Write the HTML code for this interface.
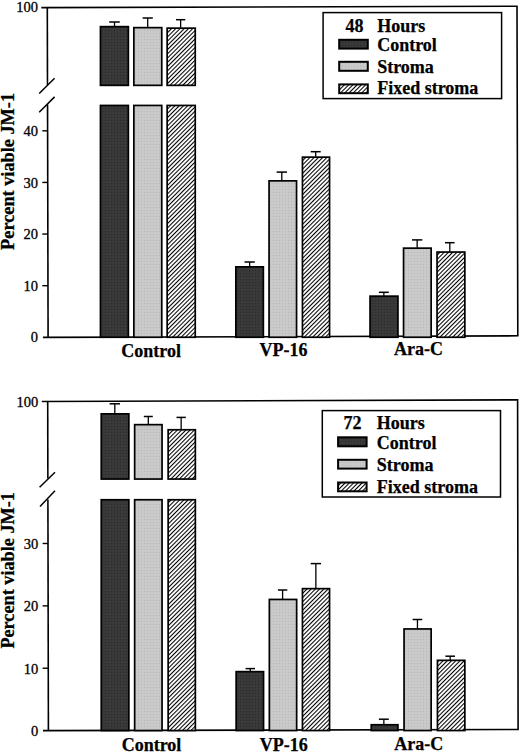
<!DOCTYPE html>
<html><head><meta charset="utf-8"><title>Percent viable JM-1</title>
<style>
html,body{margin:0;padding:0;background:#fff;}
body{width:520px;height:753px;overflow:hidden;}
svg{display:block;}
.tk{font-family:"Liberation Serif",serif;font-size:14.5px;text-anchor:end;fill:#000;stroke:#000;stroke-width:0.3px;}
.bl{font-family:"Liberation Serif",serif;font-weight:bold;font-size:18px;fill:#000;stroke:#000;stroke-width:0.25px;}
</style></head>
<body>
<svg width="520" height="753" viewBox="0 0 520 753">
<defs>
<pattern id="dk" patternUnits="userSpaceOnUse" width="3" height="3">
<rect width="3" height="3" fill="#373737"/><rect width="1" height="1" fill="#2c2c2c"/><rect x="1.5" y="1.5" width="1" height="1" fill="#424242"/>
</pattern>
<pattern id="lt" patternUnits="userSpaceOnUse" width="3" height="3">
<rect width="3" height="3" fill="#c8c8c8"/><rect width="1" height="1" fill="#bababa"/><rect x="1.5" y="1.5" width="1" height="1" fill="#d3d3d3"/>
</pattern>
<pattern id="ht" patternUnits="userSpaceOnUse" width="3" height="10" patternTransform="rotate(45)">
<rect width="3" height="10" fill="#fff"/><rect width="1.05" height="10" fill="#000"/>
</pattern>
</defs>
<rect width="520" height="753" fill="#fff"/>
<path d="M41.3 7.6 L517 6.3 L517.8 335.8 L42.9 337.4" fill="none" stroke="#000" stroke-width="1.6" stroke-linejoin="miter"/>
<line x1="47.3" y1="7.5" x2="47.49" y2="85" stroke="#000" stroke-width="1.6"/>
<line x1="47.54" y1="104.5" x2="48.1" y2="337.3" stroke="#000" stroke-width="1.6"/>
<line x1="39.2" y1="93.5" x2="54.6" y2="78.3" stroke="#000" stroke-width="1.5"/>
<line x1="39.2" y1="112.3" x2="54.6" y2="96.9" stroke="#000" stroke-width="1.5"/>
<text x="37.9" y="12.1" class="tk">100</text>
<line x1="42.3" y1="130.8" x2="47.6" y2="130.8" stroke="#000" stroke-width="1.4"/>
<text x="37.9" y="135.9" class="tk">40</text>
<line x1="42.3" y1="182.43" x2="47.72" y2="182.43" stroke="#000" stroke-width="1.4"/>
<text x="37.9" y="187.53" class="tk">30</text>
<line x1="42.3" y1="234.05" x2="47.85" y2="234.05" stroke="#000" stroke-width="1.4"/>
<text x="37.9" y="239.15" class="tk">20</text>
<line x1="42.3" y1="285.68" x2="47.97" y2="285.68" stroke="#000" stroke-width="1.4"/>
<text x="37.9" y="290.78" class="tk">10</text>
<text x="37.9" y="342.4" class="tk">0</text>
<rect x="100.45" y="26.65" width="27.9" height="58.7" fill="url(#dk)" stroke="#000" stroke-width="1.7"/>
<rect x="100.45" y="105.45" width="27.9" height="231.8" fill="url(#dk)" stroke="#000" stroke-width="1.7"/>
<line x1="114.5" y1="26.3" x2="114.5" y2="22" stroke="#000" stroke-width="1.3"/><line x1="109.2" y1="22" x2="119.8" y2="22" stroke="#000" stroke-width="1.5"/>
<rect x="133.85" y="27.65" width="27.9" height="57.7" fill="url(#lt)" stroke="#000" stroke-width="1.7"/>
<rect x="133.85" y="105.45" width="27.9" height="231.8" fill="url(#lt)" stroke="#000" stroke-width="1.7"/>
<line x1="147.7" y1="27.3" x2="147.7" y2="18" stroke="#000" stroke-width="1.3"/><line x1="142.6" y1="18" x2="152.8" y2="18" stroke="#000" stroke-width="1.5"/>
<rect x="167.15" y="28.15" width="28.1" height="57.2" fill="url(#ht)" stroke="#000" stroke-width="1.7"/>
<rect x="167.15" y="105.45" width="28.1" height="231.8" fill="url(#ht)" stroke="#000" stroke-width="1.7"/>
<line x1="180.65" y1="27.8" x2="180.65" y2="19.7" stroke="#000" stroke-width="1.3"/><line x1="176" y1="19.7" x2="185.3" y2="19.7" stroke="#000" stroke-width="1.5"/>
<rect x="235.85" y="266.85" width="27.5" height="70.4" fill="url(#dk)" stroke="#000" stroke-width="1.7"/>
<line x1="249.65" y1="266.5" x2="249.65" y2="262" stroke="#000" stroke-width="1.3"/><line x1="244.5" y1="262" x2="254.8" y2="262" stroke="#000" stroke-width="1.5"/>
<rect x="269.05" y="180.85" width="27.5" height="156.4" fill="url(#lt)" stroke="#000" stroke-width="1.7"/>
<line x1="281.8" y1="180.5" x2="281.8" y2="172.1" stroke="#000" stroke-width="1.3"/><line x1="276.6" y1="172.1" x2="287" y2="172.1" stroke="#000" stroke-width="1.5"/>
<rect x="302.45" y="157.15" width="27.1" height="180.1" fill="url(#ht)" stroke="#000" stroke-width="1.7"/>
<line x1="315.7" y1="156.8" x2="315.7" y2="151.7" stroke="#000" stroke-width="1.3"/><line x1="310.7" y1="151.7" x2="320.7" y2="151.7" stroke="#000" stroke-width="1.5"/>
<rect x="370.05" y="296.15" width="27.9" height="41.1" fill="url(#dk)" stroke="#000" stroke-width="1.7"/>
<line x1="383.85" y1="295.8" x2="383.85" y2="292.3" stroke="#000" stroke-width="1.3"/><line x1="378.9" y1="292.3" x2="388.8" y2="292.3" stroke="#000" stroke-width="1.5"/>
<rect x="403.55" y="248.15" width="27.6" height="89.1" fill="url(#lt)" stroke="#000" stroke-width="1.7"/>
<line x1="417.15" y1="247.8" x2="417.15" y2="239.9" stroke="#000" stroke-width="1.3"/><line x1="412" y1="239.9" x2="422.3" y2="239.9" stroke="#000" stroke-width="1.5"/>
<rect x="437.05" y="252.05" width="27.8" height="85.2" fill="url(#ht)" stroke="#000" stroke-width="1.7"/>
<line x1="449.8" y1="251.7" x2="449.8" y2="242.7" stroke="#000" stroke-width="1.3"/><line x1="445" y1="242.7" x2="454.6" y2="242.7" stroke="#000" stroke-width="1.5"/>
<text x="151.1" y="356.6" class="bl" text-anchor="middle">Control</text>
<text x="283.4" y="356.2" class="bl" text-anchor="middle">VP-16</text>
<text x="418.5" y="355" class="bl" text-anchor="middle">Ara-C</text>
<text transform="translate(14.4 249.9) rotate(-90)" class="bl" textLength="157" lengthAdjust="spacingAndGlyphs">Percent viable JM-1</text>
<rect x="323.1" y="12.6" width="178.5" height="86" fill="#fff" stroke="#000" stroke-width="1.5"/>
<text x="345.6" y="31.6" class="bl">48</text>
<text x="377.2" y="31.6" class="bl">Hours</text>
<rect x="339.2" y="39.8" width="28.6" height="8.8" fill="url(#dk)" stroke="#000" stroke-width="2.0"/>
<text x="377.2" y="51" class="bl">Control</text>
<rect x="339.2" y="61.8" width="28.6" height="9" fill="url(#lt)" stroke="#000" stroke-width="2.0"/>
<text x="377.2" y="72.8" class="bl">Stroma</text>
<rect x="339.2" y="84.4" width="28.6" height="8.8" fill="url(#ht)" stroke="#000" stroke-width="2.0"/>
<text x="377.2" y="94.4" class="bl">Fixed stroma</text>
<path d="M41.8 401.5 L517.6 399.8 L518.1 729.5 L43 730.6" fill="none" stroke="#000" stroke-width="1.6" stroke-linejoin="miter"/>
<line x1="47.7" y1="401.4" x2="47.86" y2="478.5" stroke="#000" stroke-width="1.6"/>
<line x1="47.91" y1="499.6" x2="48.4" y2="730.6" stroke="#000" stroke-width="1.6"/>
<line x1="39.6" y1="487.3" x2="55" y2="472.3" stroke="#000" stroke-width="1.5"/>
<line x1="40" y1="506.5" x2="55" y2="490.8" stroke="#000" stroke-width="1.5"/>
<text x="38.2" y="406.9" class="tk">100</text>
<line x1="42.6" y1="543.49" x2="48" y2="543.49" stroke="#000" stroke-width="1.4"/>
<text x="38.2" y="548.89" class="tk">30</text>
<line x1="42.6" y1="605.86" x2="48.13" y2="605.86" stroke="#000" stroke-width="1.4"/>
<text x="38.2" y="611.26" class="tk">20</text>
<line x1="42.6" y1="668.23" x2="48.27" y2="668.23" stroke="#000" stroke-width="1.4"/>
<text x="38.2" y="673.63" class="tk">10</text>
<text x="38.2" y="736" class="tk">0</text>
<rect x="101.25" y="413.85" width="27.6" height="65.2" fill="url(#dk)" stroke="#000" stroke-width="1.7"/>
<rect x="101.25" y="499.75" width="27.6" height="230.8" fill="url(#dk)" stroke="#000" stroke-width="1.7"/>
<line x1="114.8" y1="413.5" x2="114.8" y2="403.8" stroke="#000" stroke-width="1.3"/><line x1="109.6" y1="403.8" x2="120" y2="403.8" stroke="#000" stroke-width="1.5"/>
<rect x="134.65" y="424.65" width="27.4" height="54.4" fill="url(#lt)" stroke="#000" stroke-width="1.7"/>
<rect x="134.65" y="499.75" width="27.4" height="230.8" fill="url(#lt)" stroke="#000" stroke-width="1.7"/>
<line x1="148.3" y1="424.3" x2="148.3" y2="416.5" stroke="#000" stroke-width="1.3"/><line x1="143.8" y1="416.5" x2="152.8" y2="416.5" stroke="#000" stroke-width="1.5"/>
<rect x="168.15" y="429.75" width="27.2" height="49.3" fill="url(#ht)" stroke="#000" stroke-width="1.7"/>
<rect x="168.15" y="499.75" width="27.2" height="230.8" fill="url(#ht)" stroke="#000" stroke-width="1.7"/>
<line x1="181.15" y1="429.4" x2="181.15" y2="417.4" stroke="#000" stroke-width="1.3"/><line x1="176.5" y1="417.4" x2="185.8" y2="417.4" stroke="#000" stroke-width="1.5"/>
<rect x="236.15" y="671.65" width="27.4" height="58.9" fill="url(#dk)" stroke="#000" stroke-width="1.7"/>
<line x1="250.3" y1="671.3" x2="250.3" y2="668.6" stroke="#000" stroke-width="1.3"/><line x1="245.6" y1="668.6" x2="255" y2="668.6" stroke="#000" stroke-width="1.5"/>
<rect x="269.35" y="599.45" width="27.3" height="131.1" fill="url(#lt)" stroke="#000" stroke-width="1.7"/>
<line x1="282.6" y1="599.1" x2="282.6" y2="590" stroke="#000" stroke-width="1.3"/><line x1="277.9" y1="590" x2="287.3" y2="590" stroke="#000" stroke-width="1.5"/>
<rect x="302.45" y="588.65" width="27.1" height="141.9" fill="url(#ht)" stroke="#000" stroke-width="1.7"/>
<line x1="315.85" y1="588.3" x2="315.85" y2="563.6" stroke="#000" stroke-width="1.3"/><line x1="310.7" y1="563.6" x2="321" y2="563.6" stroke="#000" stroke-width="1.5"/>
<rect x="371.25" y="724.75" width="26.7" height="5.8" fill="url(#dk)" stroke="#000" stroke-width="1.7"/>
<line x1="383.85" y1="724.4" x2="383.85" y2="719.2" stroke="#000" stroke-width="1.3"/><line x1="378.9" y1="719.2" x2="388.8" y2="719.2" stroke="#000" stroke-width="1.5"/>
<rect x="404.05" y="628.95" width="27.1" height="101.6" fill="url(#lt)" stroke="#000" stroke-width="1.7"/>
<line x1="417.45" y1="628.6" x2="417.45" y2="619.5" stroke="#000" stroke-width="1.3"/><line x1="412.6" y1="619.5" x2="422.3" y2="619.5" stroke="#000" stroke-width="1.5"/>
<rect x="437.45" y="660.35" width="27.4" height="70.2" fill="url(#ht)" stroke="#000" stroke-width="1.7"/>
<line x1="450.2" y1="660" x2="450.2" y2="656.2" stroke="#000" stroke-width="1.3"/><line x1="445.4" y1="656.2" x2="455" y2="656.2" stroke="#000" stroke-width="1.5"/>
<text x="151.5" y="751" class="bl" text-anchor="middle">Control</text>
<text x="283.8" y="751" class="bl" text-anchor="middle">VP-16</text>
<text x="418.8" y="750" class="bl" text-anchor="middle">Ara-C</text>
<text transform="translate(14.3 648.6) rotate(-90)" class="bl" textLength="156.5" lengthAdjust="spacingAndGlyphs">Percent viable JM-1</text>
<rect x="322.3" y="410.6" width="178.2" height="86.4" fill="#fff" stroke="#000" stroke-width="1.5"/>
<text x="343.6" y="429" class="bl">72</text>
<text x="376.8" y="429" class="bl">Hours</text>
<rect x="338.1" y="437.3" width="28.5" height="9" fill="url(#dk)" stroke="#000" stroke-width="2.0"/>
<text x="376.8" y="449.3" class="bl">Control</text>
<rect x="338.1" y="459.8" width="28.5" height="8.8" fill="url(#lt)" stroke="#000" stroke-width="2.0"/>
<text x="376.8" y="471" class="bl">Stroma</text>
<rect x="338.1" y="482.5" width="28.5" height="8.8" fill="url(#ht)" stroke="#000" stroke-width="2.0"/>
<text x="376.8" y="493.2" class="bl">Fixed stroma</text>
</svg>
</body></html>
